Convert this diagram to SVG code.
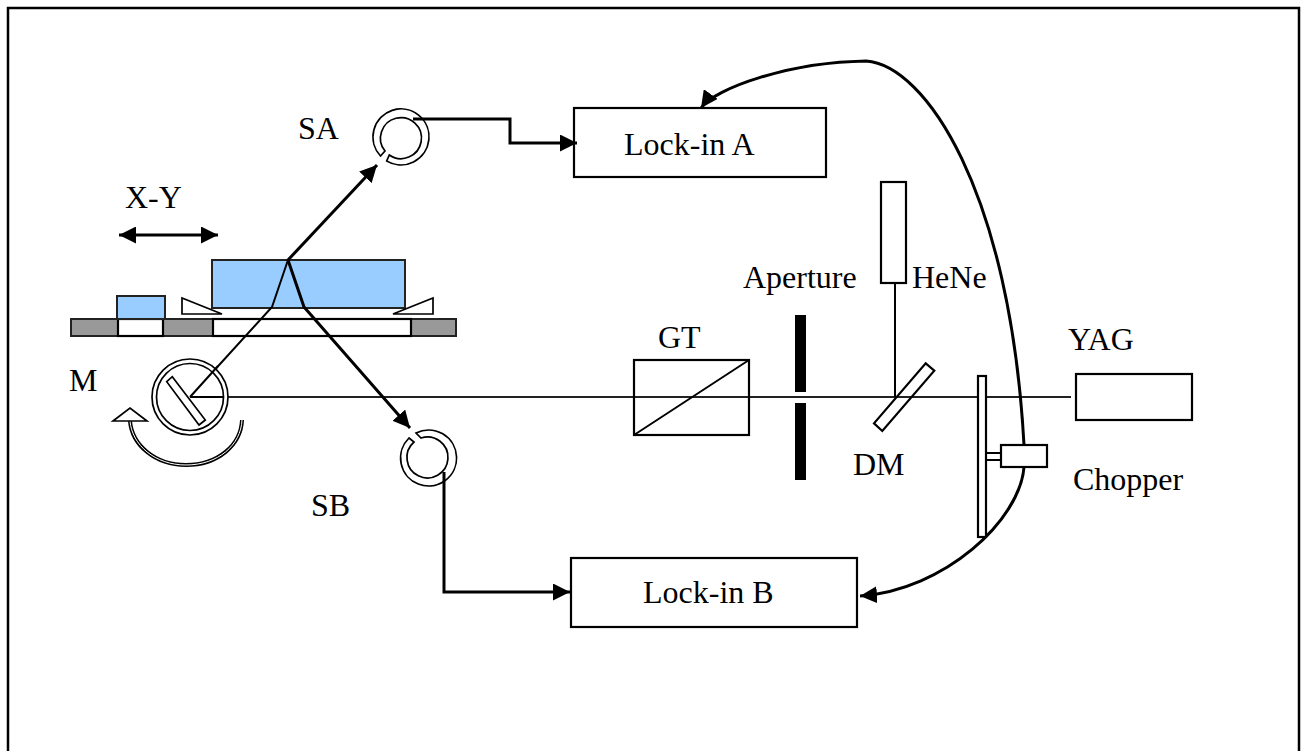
<svg xmlns="http://www.w3.org/2000/svg" width="1305" height="751" viewBox="0 0 1305 751">
<style>
text{font-family:"Liberation Serif","Times New Roman",serif;font-size:32px;fill:#000}
.o{fill:#fff;stroke:#000;stroke-width:2.2}
.n{fill:none;stroke:#000;stroke-width:2.2}
.r{fill:#fff;stroke:#000;stroke-width:1.7}
.b{fill:#99ccff;stroke:#222;stroke-width:2}
.l{fill:none;stroke:#000;stroke-width:2}
.t{fill:none;stroke:#000;stroke-width:3}
</style>
<defs>
<marker id="ah" markerUnits="userSpaceOnUse" markerWidth="18" markerHeight="17" refX="17" refY="8.5" orient="auto-start-reverse"><path d="M0,0L17,8.5L0,17Z" fill="#000"/></marker>
</defs>
<rect id="frame" x="8" y="8" width="1291" height="760" fill="#fff" stroke="#000" stroke-width="2.5"/>
<g id="stage">
<rect x="71" y="319" width="385" height="17" fill="#999" stroke="#222" stroke-width="2"/>
<rect x="118" y="319" width="45" height="17" class="o"/>
<rect x="213" y="319" width="198" height="17" class="o"/>
<rect x="117" y="296" width="48" height="23" class="b"/>
<rect x="212" y="260" width="193" height="48" class="b"/>
<path d="M182,298V314H222Z" class="r"/>
<path d="M433,298V314H393Z" class="r"/>
</g>
<g id="SA"><path d="M380.5,156A28,28 0 1 1 386.7,161L389.3,155A20.5,20.5 0 1 0 385,151Z" class="r"/></g>
<g id="SB"><path d="M416,433A28,28 0 1 1 409,438L414,442A20.5,20.5 0 1 0 421,438Z" class="r"/></g>
<g id="LockA"><rect x="574" y="108" width="252" height="69" class="o"/></g>
<g id="LockB"><rect x="571" y="558" width="286" height="69" class="o"/></g>
<g id="connectors">
<path d="M190,397H1071" fill="none" stroke="#222" stroke-width="2"/>
<path d="M190,397L272,307L288,260" class="l"/>
<path d="M288,260L377,165" class="t" marker-end="url(#ah)"/>
<path d="M288,260L304,307L410,428" class="t" marker-end="url(#ah)"/>
<path d="M413,119H510V143H577" class="t" marker-end="url(#ah)"/>
<path d="M444,472V592H570" class="t" marker-end="url(#ah)"/>
<path d="M895,283V397" class="l"/>
<path d="M119,235H218" class="t" marker-start="url(#ah)" marker-end="url(#ah)"/>
<path d="M701,108C715,88 790,62 866,61C925,65 1010,190 1024,445" class="t" marker-start="url(#ah)"/>
<path d="M1024,467C1020,520 945,590 860,596" class="t" marker-end="url(#ah)"/>
</g>
<g id="M">
<circle cx="190" cy="397" r="38" class="r"/>
<circle cx="190" cy="397" r="33.5" class="l" style="stroke-width:1.7"/>
<path d="M166.7,381.7L172.3,376.7L205.3,420L199,425Z" class="r"/>
<path d="M190,397H223M190,397L218,366" class="l"/>
<path d="M130,421C132,445 155,465 186,465C218,465 241,445 242,420" fill="none" stroke="#000" stroke-width="4"/>
<path d="M130,421C132,445 155,465 186,465C218,465 241,445 242,420" fill="none" stroke="#fff" stroke-width="1"/>
<path d="M113,421L130,408L147,421Z" class="r"/>
</g>
<g id="GT"><rect x="634" y="360" width="115" height="75" class="n"/><path d="M634,435L749,360" class="l"/></g>
<g id="Aperture"><rect x="795" y="315" width="11" height="77" fill="#000"/><rect x="795" y="403" width="11" height="77" fill="#000"/></g>
<g id="HeNe"><rect x="881" y="182" width="25" height="101" class="o"/></g>
<g id="DM"><path d="M925.7,363.3L934.3,370.7L882.3,431L874,423.3Z" class="n"/></g>
<g id="Chopper">
<rect x="978" y="376" width="8" height="161" class="o"/>
<path d="M986,453H1001M986,460H1001" class="l"/>
<rect x="1001" y="445" width="46" height="22" class="o"/>
</g>
<g id="YAG"><rect x="1076" y="374" width="116" height="46" class="o"/></g>
<text x="125" y="208">X-Y</text>
<text x="298" y="139">SA</text>
<text x="69" y="391">M</text>
<text x="311" y="516">SB</text>
<text x="624" y="155">Lock-in A</text>
<text x="643" y="603">Lock-in B</text>
<text x="743" y="288">Aperture</text>
<text x="912" y="288">HeNe</text>
<text x="658" y="348">GT</text>
<text x="1068" y="350">YAG</text>
<text x="853" y="475">DM</text>
<text x="1073" y="490">Chopper</text>
</svg>
